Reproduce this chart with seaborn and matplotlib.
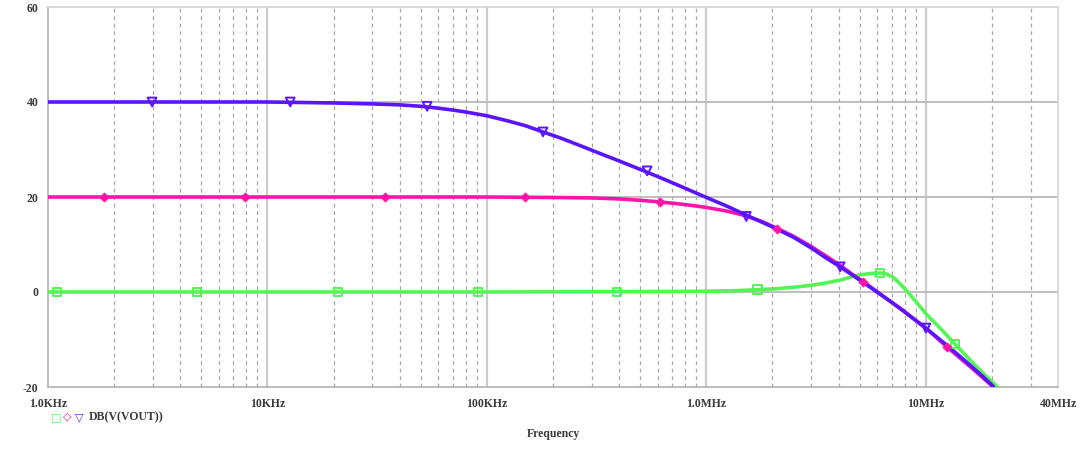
import numpy as np
import pandas as pd
import matplotlib
matplotlib.use("Agg")
import matplotlib.pyplot as plt
import seaborn as sns
from matplotlib.ticker import FixedLocator, NullFormatter

# ---------------- data ----------------
blue_f = [1e3, 1e4, 2e4, 3e4, 4e4, 5e4, 6e4, 7e4, 8e4, 1e5, 1.25e5, 1.5e5, 1.8e5, 2.2e5,
          2.7e5, 3.3e5, 4e5, 5e5, 6e5, 7.5e5, 1e6, 1.25e6, 1.5e6, 2e6, 2.5e6, 3e6, 3.5e6,
          4.07e6, 5e6, 6e6, 7e6, 8e6, 9e6, 1e7, 1.2e7, 1.4e7, 1.6e7, 1.8e7, 2.03e7]
blue_db = [40.0, 40.0, 39.8, 39.6, 39.4, 39.1, 38.7, 38.3, 37.9, 37.1, 36.0, 35.0, 33.7, 32.3,
           30.7, 29.1, 27.6, 25.8, 24.3, 22.4, 19.9, 18.0, 16.3, 13.7, 11.5, 9.3, 7.2,
           5.3, 2.5, 0.0, -2.2, -4.2, -6.0, -7.6, -10.6, -13.2, -15.5, -17.6, -19.9]

mag_f = [1e3, 1e5, 2e5, 3e5, 4e5, 5e5, 6e5, 7e5, 8e5, 9e5, 1e6, 1.25e6, 1.5e6, 1.8e6,
         2.1e6, 2.5e6, 3e6, 3.5e6, 4.07e6, 4.6e6, 5.19e6, 6e6, 7e6, 7.64e6, 9e6, 1e7,
         1.25e7, 1.6e7, 2.03e7]
mag_db = [20.0, 20.0, 19.9, 19.8, 19.6, 19.3, 19.0, 18.7, 18.4, 18.1, 17.8, 17.0, 16.1, 14.8,
          13.4, 11.7, 9.6, 7.6, 5.6, 3.8, 2.2, 0.0, -2.2, -3.4, -6.0, -7.6,
          -11.6, -15.8, -20.0]

grn_f = [1e3, 1e5, 3e5, 1e6, 1.4e6, 1.71e6, 2.1e6, 2.5e6, 3e6, 3.5e6, 4.07e6, 4.6e6,
         5.0e6, 5.6e6, 6.2e6, 6.6e6, 7.1e6, 7.6e6, 8.2e6, 9e6, 1.01e7, 1.1e7, 1.2e7,
         1.36e7, 1.59e7, 1.85e7, 2.11e7]
grn_db = [0.0, 0.0, 0.05, 0.15, 0.3, 0.5, 0.7, 1.0, 1.4, 1.9, 2.5, 3.2,
          3.6, 3.9, 4.0, 3.8, 3.1, 1.8, 0.2, -2.0, -4.8, -6.5, -8.3,
          -11.0, -14.3, -17.4, -19.9]

blue_mk_f = [2.98e3, 12.7e3, 53.4e3, 180e3, 537e3, 1.52e6, 4.07e6, 1.0e7]
blue_mk_db = [40.0, 40.0, 39.1, 33.7, 25.5, 15.9, 5.3, -7.6]
mag_mk_f = [1.80e3, 7.9e3, 34.4e3, 149e3, 615e3, 2.10e6, 5.19e6, 1.25e7]
mag_mk_db = [20.0, 20.0, 20.0, 20.0, 19.0, 13.2, 2.2, -11.6]
grn_mk_f = [1.10e3, 4.78e3, 21e3, 91e3, 392e3, 1.71e6, 6.2e6, 1.36e7]
grn_mk_db = [0.0, 0.0, 0.0, 0.0, 0.05, 0.5, 4.0, -11.0]

xtick_vals = [1e3, 1e4, 1e5, 1e6, 1e7, 4e7]
xtick_labels = ["1.0KHz", "10KHz", "100KHz", "1.0MHz", "10MHz", "40MHz"]
ytick_vals = [-20, 0, 20, 40, 60]
legend_label = "DB(V(VOUT))"

# ---------------- style ----------------
sns.set_style("white")
plt.rcParams['font.family'] = ['Liberation Serif', 'DejaVu Serif']

BLUE = "#5a14ff"
MAG = "#ff14aa"
GRN = "#55f555"
TXT = "#3a3a3a"

fig = plt.figure(figsize=(10.8, 4.55), dpi=100)
ax = fig.add_axes([48/1080, 1 - 387/455, (1058-48)/1080, (387-7)/455])

# grid lines
minor = [m * 10**e for e in range(3, 8) for m in range(2, 10) if m * 10**e < 4e7]
for v in minor:
    ax.axvline(v, color="#a8a8a8", lw=0.9, ls=(0, (3, 3)), zorder=0)
for v in [1e4, 1e5, 1e6, 1e7]:
    ax.axvline(v, color="#cccccc", lw=1.6, zorder=0)
for v in [0, 20, 40]:
    ax.axhline(v, color="#b4b4b4", lw=1.2, zorder=0)

lw = 2.6
sns.lineplot(x=grn_f, y=grn_db, ax=ax, color=GRN, lw=lw, zorder=3)
sns.lineplot(x=mag_f, y=mag_db, ax=ax, color=MAG, lw=lw, zorder=4)
sns.lineplot(x=blue_f, y=blue_db, ax=ax, color=BLUE, lw=lw, zorder=5)

sns.scatterplot(x=grn_mk_f, y=grn_mk_db, ax=ax, marker="s", s=36,
                facecolor="none", edgecolor=GRN, linewidth=1.4, zorder=6)
sns.scatterplot(x=mag_mk_f, y=mag_mk_db, ax=ax, marker="D", s=20,
                color=MAG, edgecolor=MAG, linewidth=0.8, zorder=6)
sns.scatterplot(x=blue_mk_f, y=blue_mk_db, ax=ax, marker="v", s=40,
                facecolor="none", edgecolor=BLUE, linewidth=1.4, zorder=7)

ax.set_xscale("log")
ax.set_xlim(1e3, 4e7)
ax.set_ylim(-20, 60)

ax.xaxis.set_major_locator(FixedLocator(xtick_vals))
ax.set_xticklabels(xtick_labels)
ax.xaxis.set_minor_locator(FixedLocator(minor))
ax.xaxis.set_minor_formatter(NullFormatter())
ax.set_yticks(ytick_vals)
ax.set_yticklabels([str(v) for v in ytick_vals])

ax.tick_params(axis="x", which="major", direction="in", length=6, width=1,
               color="#b0b0b0", labelsize=8.5, labelcolor=TXT, pad=8)
ax.tick_params(axis="x", which="minor", direction="in", length=4, width=0.8,
               color="#b0b0b0")
ax.tick_params(axis="y", which="major", direction="out", length=4, width=1,
               color="#b0b0b0", labelsize=8.5, labelcolor=TXT, pad=3)
for lab in ax.get_xticklabels() + ax.get_yticklabels():
    lab.set_fontweight("bold")

for side in ["left", "bottom"]:
    ax.spines[side].set_color("#b0b0b0")
    ax.spines[side].set_linewidth(1.2)
for side in ["top", "right"]:
    ax.spines[side].set_color("#d4d4d4")
    ax.spines[side].set_linewidth(1.2)

ax.set_xlabel("Frequency", fontsize=8.5, color=TXT, labelpad=13)
ax.xaxis.label.set_fontweight("bold")
ax.set_ylabel("")

# legend row
fig.text(56/1080, 1 - 417/455, "\u25a1", color=GRN, fontsize=8, va="center", ha="center",
         family=["DejaVu Sans"])
fig.text(67/1080, 1 - 417/455, "\u25c7", color=MAG, fontsize=8, va="center", ha="center",
         family=["DejaVu Sans"])
fig.text(79/1080, 1 - 417/455, "\u25bd", color=BLUE, fontsize=8, va="center", ha="center",
         family=["DejaVu Sans"])
fig.text(89/1080, 1 - 417/455, legend_label, color=TXT, fontsize=8.5, va="center",
         ha="left", fontweight="bold")

fig.savefig("out.png", dpi=100)
